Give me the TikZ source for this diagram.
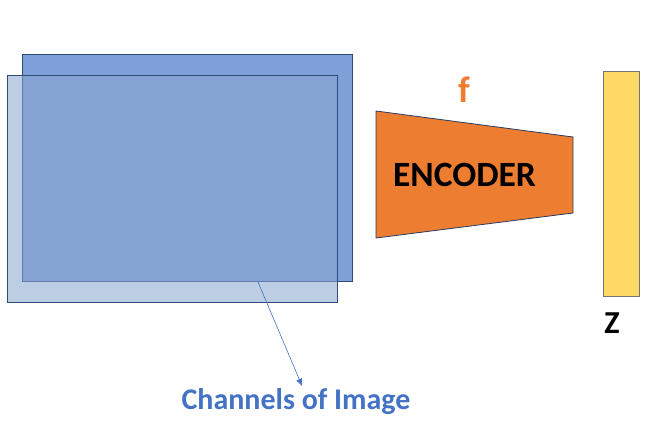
\documentclass[tikz,border=0pt]{standalone}
\usepackage{fontspec}
\setmainfont{Carlito}
\usetikzlibrary{arrows.meta}
\definecolor{backblue}{RGB}{127,159,216}
\definecolor{frontblue}{RGB}{136,165,206}
\definecolor{edgeblue}{RGB}{47,75,124}
\definecolor{encorange}{RGB}{237,125,49}
\definecolor{textblue}{RGB}{68,114,196}
\definecolor{zyellow}{RGB}{255,217,102}
\tikzset{
  chan/.style={draw=edgeblue, line width=0.8pt, inner sep=0pt, minimum width=330pt, minimum height=227pt},
  bigtext/.style={font=\bfseries\fontsize{#1}{#1}\selectfont, inner sep=0pt, anchor=base}
}

\begin{document}
\begin{tikzpicture}[x=1pt,y=-1pt]
\useasboundingbox (0,0) rectangle (659,433);
\node[chan, fill=backblue] (back) at (187,167.5) {};
\node[chan, fill=frontblue, fill opacity=0.555] (front) at (172,188.5) {};

\filldraw[fill=encorange, draw=edgeblue!80!black, line width=0.8pt] (376,111) -- (573,137) -- (573,213) -- (376,238) -- cycle;
\node[bigtext=35.5, text=black] (enc) at (464.5,186.5) {ENCODER};
\node[bigtext=37, text=encorange] (f) at (464,103) {f};

\node[draw=black!55, fill=zyellow, line width=0.8pt, inner sep=0pt, minimum width=36pt, minimum height=225pt] (z) at (621,183.5) {};
\node[bigtext=32, text=black] (zlabel) at (612,333) {Z};

\coordinate (chtail) at (258,282);
\node[bigtext=30, text=textblue] (chantext) at (296,409) {Channels of Image};
\draw[textblue, line width=0.6pt, -{Triangle[length=7pt,width=6pt]}] (chtail) -- ([xshift=6pt,yshift=2pt]chantext.north);
\end{tikzpicture}
\end{document}
